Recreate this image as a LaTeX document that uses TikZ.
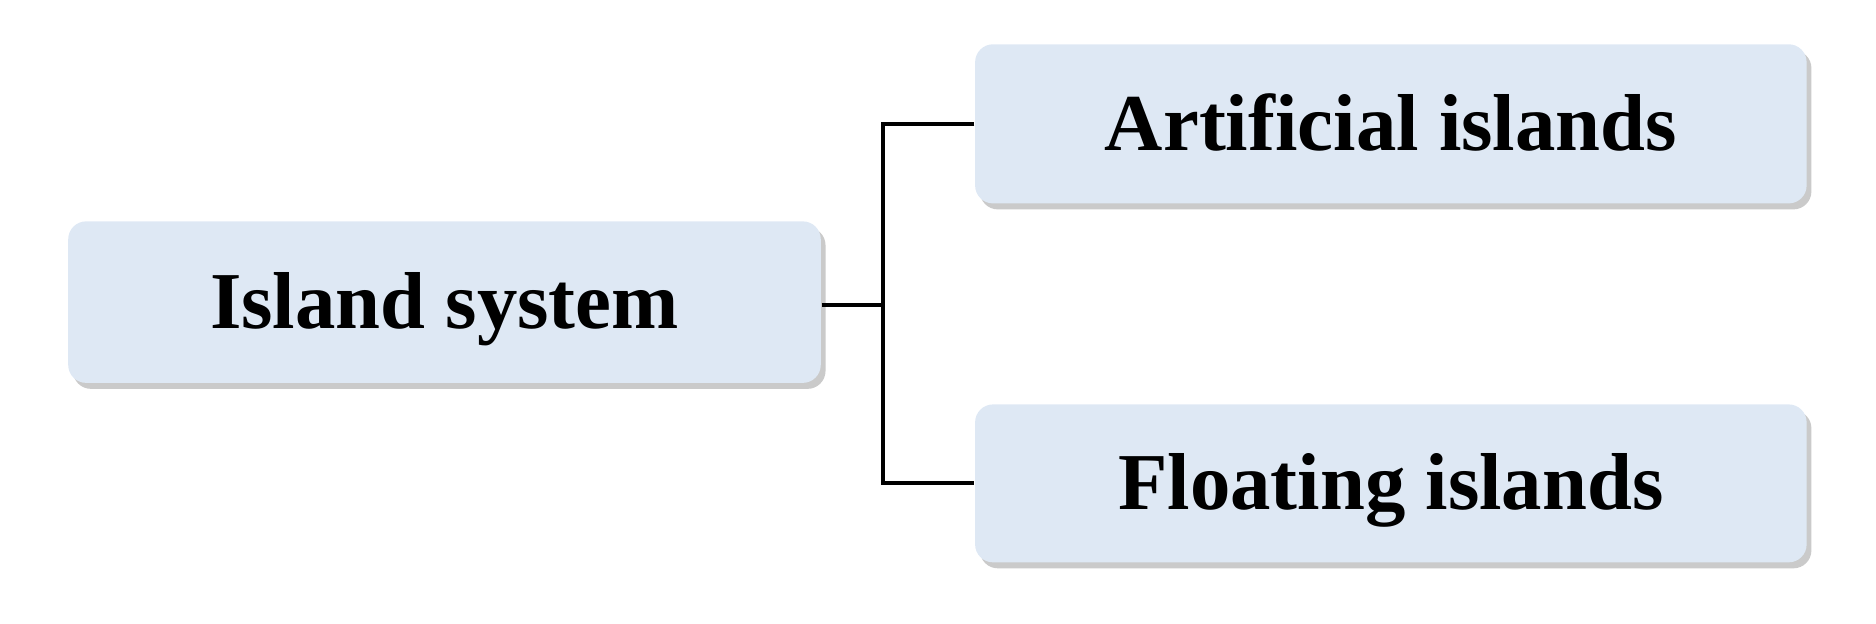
\documentclass[tikz,border=0pt]{standalone}
\usepackage{fontspec}
\setmainfont{Liberation Serif}
\usetikzlibrary{shadows}
\definecolor{boxfill}{HTML}{DEE8F4}
\begin{document}
\begin{tikzpicture}[
  box/.style={draw=none, fill=boxfill, rounded corners=0.15cm,
    drop shadow={shadow xshift=0.04cm, shadow yshift=-0.05cm, fill=black!35, opacity=0.6},
    font=\fontsize{19.2pt}{22pt}\selectfont\bfseries, align=center, text height=0.5cm, text depth=0.06cm},
  conn/.style={line width=0.035cm, black}
]
\useasboundingbox (0,0) rectangle (15.68,5.21);
\node[box, minimum width=6.29cm, minimum height=1.35cm] (sys) at (3.715,2.685) {Island system};
\node[box, minimum width=6.95cm, minimum height=1.33cm] (art) at (11.625,4.175) {Artificial islands};
\node[box, minimum width=6.95cm, minimum height=1.32cm] (flo) at (11.625,1.17) {Floating islands};
\coordinate (j) at (7.38,2.66);
\draw[conn] (sys.east |- j) -- (j);
\draw[conn] (art.west) -| (j) |- (flo.west);
\end{tikzpicture}
\end{document}
